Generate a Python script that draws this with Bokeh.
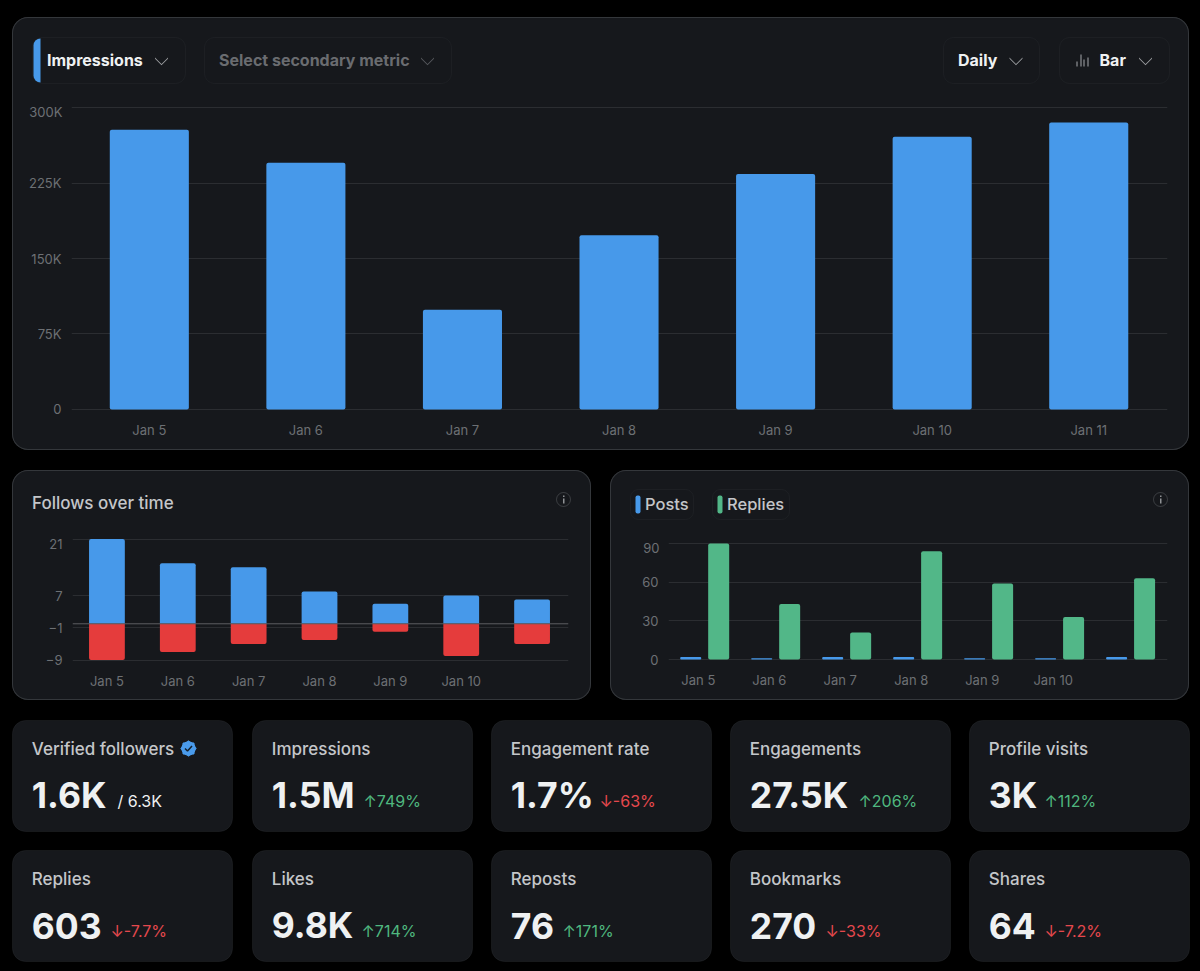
from bokeh.plotting import figure
from bokeh.layouts import column, row
from bokeh.models import BoxAnnotation, Label, PolyAnnotation, Range1d, FixedTicker, Span
from bokeh.embed import file_html
from bokeh.resources import INLINE

days = ["Jan 5", "Jan 6", "Jan 7", "Jan 8", "Jan 9", "Jan 10", "Jan 11"]
impressions = [278000, 245000, 99000, 173000, 234000, 271000, 285000]
impression_ticks = [0, 75000, 150000, 225000, 300000]
impression_tick_labels = ["0", "75K", "150K", "225K", "300K"]

follows_up = [21, 15, 14, 8, 5, 7, 6]
follows_down = [-9, -7, -5, -4, -2, -8, -5]
follows_ticks = [-9, -1, 7, 21]

posts = [2, 1, 2, 2, 1, 1, 2]
replies = [90, 43, 21, 84, 59, 33, 63]
activity_ticks = [0, 30, 60, 90]

card_titles = ["Verified followers", "Impressions", "Engagement rate", "Engagements", "Profile visits",
               "Replies", "Likes", "Reposts", "Bookmarks", "Shares"]
card_values = ["1.6K", "1.5M", "1.7%", "27.5K", "3K", "603", "9.8K", "76", "270", "64"]
card_deltas = ["/ 6.3K", "↑749%", "↓-63%", "↑206%", "↑112%", "↓-7.7%", "↑714%", "↑171%", "↓-33%", "↓-7.2%"]

FONT = "Inter"
MEDIUM = "Inter Medium, Inter"
BG = "#16181c"
BORDER = "#34373b"
CONTROL = "#2f3236"
GRID = "#2b2d31"
TICK = "#6d7074"
BLUE = "#4799ea"
RED = "#e53c3c"
GREEN = "#52b788"
UP = "#4fb77f"
DOWN = "#e5484d"
TITLE = "#c4c6c9"
WHITE = "#eff1f2"

PANEL_STYLE = {"background": BG, "border-radius": "16px", "box-shadow": f"inset 0 0 0 1px {BORDER}"}
xi = list(range(len(days)))


def base_figure(w, h, margin, borders, x_range, y_range):
    left, right, top, bottom = borders
    p = figure(width=w, height=h, output_backend="svg", toolbar_location=None, margin=margin,
               x_range=x_range, y_range=y_range, frame_align=False,
               min_border_left=left, min_border_right=right, min_border_top=top, min_border_bottom=bottom,
               background_fill_color=None, border_fill_color=None, outline_line_color=None,
               styles=PANEL_STYLE, tools="")
    for ax in (p.xaxis[0], p.yaxis[0]):
        ax.axis_line_color = None
        ax.major_tick_line_color = None
        ax.minor_tick_line_color = None
        ax.major_label_text_font = FONT
        ax.major_label_text_font_size = "13px"
        ax.major_label_text_color = TICK
    p.xaxis[0].major_label_standoff = 4
    p.yaxis[0].major_label_standoff = 4
    p.xgrid.visible = False
    p.ygrid.grid_line_color = GRID
    p.ygrid.grid_line_width = 1
    return p


# ---------- main chart ----------
top = base_figure(1177, 433, (17, 3, 10, 12), (59, 22, 88, 39), Range1d(-0.497, 6.503), Range1d(-1987, 301987))
top.xaxis[0].ticker = FixedTicker(ticks=xi)
top.xaxis[0].major_label_overrides = dict(zip(xi, days))
top.yaxis[0].ticker = FixedTicker(ticks=impression_ticks)
top.yaxis[0].major_label_overrides = {t: (l if t != 300000 else "") for t, l in zip(impression_ticks, impression_tick_labels)}
top.ygrid.ticker = FixedTicker(ticks=impression_ticks)
top.vbar(x=xi, top=impressions, width=0.505, fill_color=BLUE, line_color=None, border_radius=2)

# ---------- follows ----------
follows = base_figure(579, 230, (10, 9, 10, 12), (60, 23, 67, 38), Range1d(-0.486, 6.514), Range1d(-9.6, 21.4))
follows.xaxis[0].ticker = FixedTicker(ticks=xi)
follows.xaxis[0].major_label_overrides = {i: (days[i] if i < 6 else "") for i in xi}
follows.yaxis[0].ticker = FixedTicker(ticks=follows_ticks)
follows.yaxis[0].major_label_overrides = {21: ""}
follows.ygrid.ticker = FixedTicker(ticks=follows_ticks)
follows.vbar(x=xi, top=follows_up, bottom=0, width=0.505, fill_color=BLUE, line_color=None, border_radius=(2, 2, 0, 0))
follows.vbar(x=xi, top=0, bottom=follows_down, width=0.505, fill_color=RED, line_color=None, border_radius=(0, 0, 2, 2))
follows.add_layout(Span(location=0, dimension="width", line_color="#5c5e62", line_width=1))

# ---------- posts / replies ----------
activity = base_figure(579, 230, (10, 3, 10, 10), (58, 22, 71, 39), Range1d(-0.51, 6.52), Range1d(-1.55, 91.55))
label_ticks = [i - 0.09 for i in xi]
activity.xaxis[0].ticker = FixedTicker(ticks=label_ticks)
activity.xaxis[0].major_label_overrides = {t: (days[i] if i < 6 else "") for i, t in enumerate(label_ticks)}
activity.yaxis[0].ticker = FixedTicker(ticks=activity_ticks)
activity.yaxis[0].major_label_overrides = {90: ""}
activity.ygrid.ticker = FixedTicker(ticks=activity_ticks)
activity.vbar(x=[i - 0.197 for i in xi], top=posts, width=0.296, fill_color=BLUE, line_color=None, border_radius=1)
activity.vbar(x=[i + 0.197 for i in xi], top=replies, width=0.296, fill_color=GREEN, line_color=None, border_radius=2)

# ---------- page-wide layer: data units are page pixels ----------
page = figure(width=1195, height=965, output_backend="svg", toolbar_location=None, tools="", frame_align=False,
              x_range=Range1d(0, 1195), y_range=Range1d(965, 0), x_axis_location=None, y_axis_location=None,
              min_border=0, background_fill_color=None, border_fill_color=None, outline_line_color=None,
              styles={"position": "absolute", "left": "0px", "top": "0px", "width": "1195px", "height": "965px",
                      "max-height": "none", "max-width": "none", "min-height": "965px"})
page.grid.visible = False


def text(x, y, s, size=16, color=WHITE, style="normal", align="left", font=FONT):
    page.add_layout(Label(x=x, y=y, text=s, text_font=font, text_font_size=f"{size}px", text_color=color,
                          text_font_style=style, text_baseline="middle", text_align=align))


def box(x0, y0, x1, y1, fill=None, line=None, radius=0, level="overlay"):
    page.add_layout(BoxAnnotation(left=x0, right=x1, top=y0, bottom=y1, fill_color=fill, fill_alpha=1 if fill else 0,
                                  line_color=line, line_width=1, border_radius=radius, level=level))


def chevron(cx, y0, color, w=6.5, h=6.5, t=1.3):
    page.add_layout(PolyAnnotation(xs=[cx - w, cx, cx + w, cx + w, cx, cx - w],
                                   ys=[y0, y0 + h, y0, y0 + t, y0 + h + t, y0 + t],
                                   fill_color=color, fill_alpha=1, line_color=None, level="overlay"))


def info(cx, cy):
    c = "#8f9295"
    box(cx - 7, cy - 7, cx + 7, cy + 7, line=c, radius=7)
    box(cx - 0.5, cy - 1, cx + 1, cy + 4, fill=c)
    box(cx - 0.5, cy - 4, cx + 1, cy - 2.5, fill=c)


text(62, 111, "300K", 13, TICK, align="right")
box(32, 37, 185, 83, line=CONTROL, radius=10)
box(33, 38, 40, 82, fill=BLUE, radius=(8, 0, 0, 8))
text(46.5, 59.5, "Impressions", 16, WHITE, "bold")
chevron(161, 57, "#9a9c9f")
box(204, 37, 451, 83, line=CONTROL, radius=10)
text(218.5, 59.5, "Select secondary metric", 16, "#6a6c70", "bold")
chevron(427, 57, "#55585c")
box(943, 37, 1039, 83, line=CONTROL, radius=10)
text(957.5, 59.5, "Daily", 16, WHITE, "bold")
chevron(1015.5, 57, "#9a9c9f")
box(1059, 37, 1169, 83, line=CONTROL, radius=10)
for bx, bh in zip((1076, 1080, 1083, 1087), (5, 12, 7, 9)):
    box(bx, 66 - bh, bx + 1, 66, fill="#a6a8ab")
text(1099, 59.5, "Bar", 16, WHITE, "bold")
chevron(1145, 57, "#9a9c9f")

text(62, 543, "21", 13, TICK, align="right")
text(31.5, 502, "Follows over time", 17, TITLE, font=MEDIUM)
info(563, 499)

text(659, 547, "90", 13, TICK, align="right")
box(630, 489, 693, 519, line=CONTROL, radius=8)
box(635, 495, 640, 513, fill=BLUE, radius=2)
text(644.5, 503.5, "Posts", 16.5, TITLE, font=MEDIUM)
box(712, 489, 789, 519, line=CONTROL, radius=8)
box(717, 495, 722, 513, fill=GREEN, radius=2)
text(726.5, 503.5, "Replies", 16.5, TITLE, font=MEDIUM)
info(1160, 499)

col_x = [12, 252, 491, 730, 969]
row_y = [720, 850]
delta_x = [117, 363, 599, 858, 1044, 110, 361, 562, 825, 1044]
for i, title in enumerate(card_titles):
    x0, y0 = col_x[i % 5], row_y[i // 5]
    box(x0, y0, x0 + 220, y0 + 111, fill=BG, line=BORDER, radius=13, level="image")
    text(x0 + 19.3, y0 + 28.5, title, 17, TITLE, font=MEDIUM)
    text(x0 + 19.3, y0 + 75, card_values[i], 35.5, WHITE, "bold")
    delta = card_deltas[i]
    text(delta_x[i], y0 + 80.5, delta, 16, WHITE if i == 0 else (UP if delta[0] == "↑" else DOWN))

page.scatter([188], [748], marker="circle", size=13.5, color="#4a9bec")
page.scatter([188, 188], [748, 748], marker="square", size=11, angle=[0, 0.785], color="#4a9bec")
page.line([184.5, 187, 191.5], [748, 750.5, 745.5], line_color="#14202b", line_width=1.5)

p = column(top, row(follows, activity, spacing=0), page, spacing=0)
html = file_html(p, INLINE)
html = html.replace("<head>", "<head><style>html,body{background:#000}</style>", 1)
open("out.html", "w").write(html)
